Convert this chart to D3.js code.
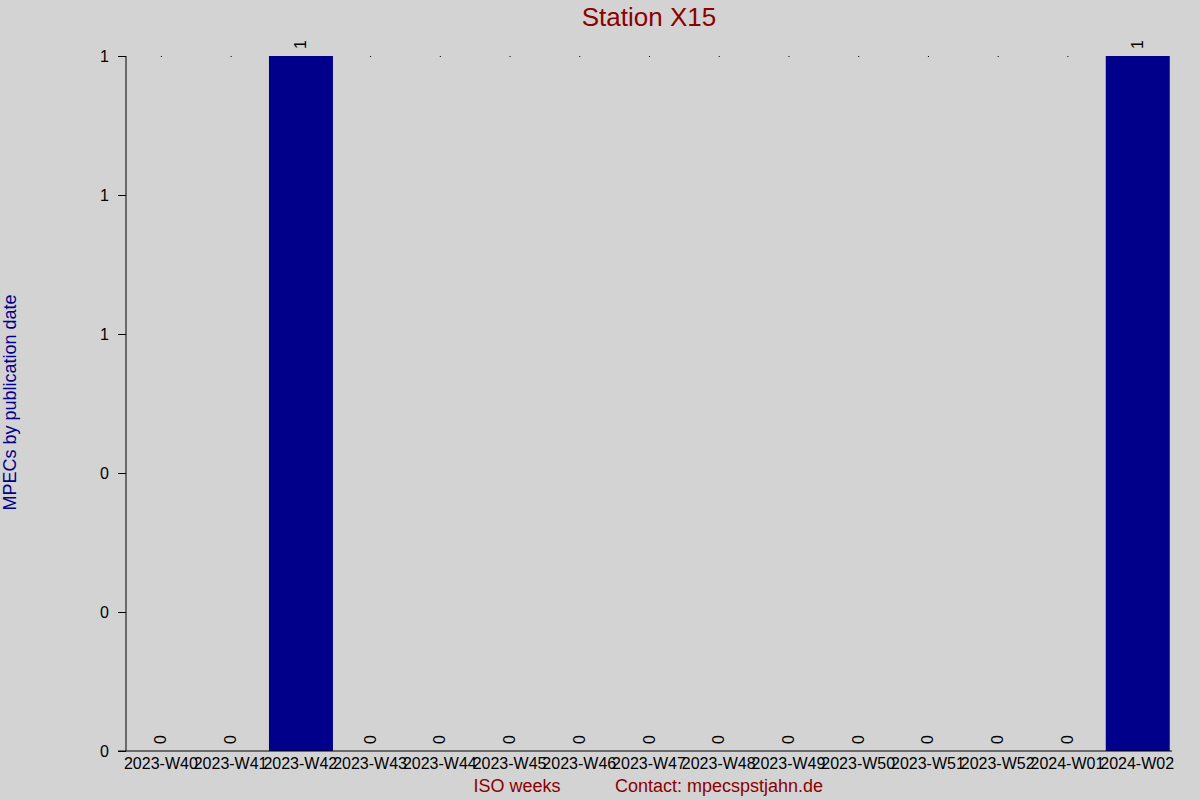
<!DOCTYPE html>
<html lang="en">
<head>
  <meta charset="UTF-8">
  <title>Station X15</title>
  <script src="https://d3js.org/d3.v7.min.js"></script>
  <style>
    body { margin: 0; background: #d3d3d3; font-family: 'Liberation Sans', Arial, sans-serif; }
    svg text { font-family: 'Liberation Sans', Arial, sans-serif; }
  </style>
</head>
<body>
  <div id="chart"></div>
  <script>
    const weeks = ["2023-W40", "2023-W41", "2023-W42", "2023-W43", "2023-W44", "2023-W45", "2023-W46",
      "2023-W47", "2023-W48", "2023-W49", "2023-W50", "2023-W51", "2023-W52", "2024-W01", "2024-W02"];
    const counts = [0, 0, 1, 0, 0, 0, 0, 0, 0, 0, 0, 0, 0, 0, 1];
    const yTicks = [0, 0.2, 0.4, 0.6, 0.8, 1];

    const width = 1200, height = 800;
    const plotLeft = 126, plotRight = 1172, plotTop = 56, plotBottom = 751;

    const svg = d3.select("#chart").append("svg")
      .attr("width", width)
      .attr("height", height);

    svg.append("rect").attr("width", width).attr("height", height).attr("fill", "#d3d3d3");

    const data = weeks.map((w, i) => ({ week: w, value: counts[i] }));

    const x = d3.scaleBand().domain(weeks).range([plotLeft, plotRight]).padding(0);
    const y = d3.scaleLinear().domain([0, 1]).range([plotBottom, plotTop]);

    // little marks at the top of each band
    svg.append("g").selectAll("rect")
      .data(data)
      .enter().append("rect")
      .attr("x", d => x(d.week) + x.bandwidth() / 2)
      .attr("y", y(1))
      .attr("width", 1)
      .attr("height", 1)
      .attr("fill", "#000");

    // bars
    svg.append("g").selectAll("rect")
      .data(data)
      .enter().append("rect")
      .attr("x", d => x(d.week) + 3.5)
      .attr("y", d => y(d.value))
      .attr("width", x.bandwidth() - 5.75)
      .attr("height", d => y(0) - y(d.value))
      .attr("fill", "#00008b");

    // value labels
    svg.append("g").selectAll("text")
      .data(data)
      .enter().append("text")
      .attr("transform", d => `translate(${x(d.week) + x.bandwidth() / 2},${y(d.value) - 7}) rotate(-90)`)
      .attr("dominant-baseline", "central")
      .attr("text-anchor", "start")
      .attr("font-size", 16)
      .attr("fill", "#000")
      .text(d => d.value);

    // y axis
    const yAxis = svg.append("g")
      .attr("transform", `translate(${plotLeft},0)`)
      .call(d3.axisLeft(y).tickValues(yTicks).tickFormat(d3.format(".0f")).tickSizeInner(8).tickSizeOuter(0).tickPadding(9));
    yAxis.select(".domain").remove();
    yAxis.selectAll("text").attr("font-size", 16).attr("fill", "#000").style("font-family", "'Liberation Sans', Arial, sans-serif");
    yAxis.selectAll("line").attr("stroke", "#000");
    svg.append("line")
      .attr("x1", plotLeft).attr("x2", plotLeft)
      .attr("y1", plotTop).attr("y2", plotBottom)
      .attr("stroke", "#000");

    // x axis
    const xAxis = svg.append("g")
      .attr("transform", `translate(0,${plotBottom})`)
      .call(d3.axisBottom(x).tickSizeInner(0).tickSizeOuter(0).tickPadding(7));
    xAxis.select(".domain").remove();
    xAxis.selectAll("text").attr("font-size", 16).attr("fill", "#000").style("font-family", "'Liberation Sans', Arial, sans-serif");
    svg.append("line")
      .attr("x1", plotLeft - 8).attr("x2", plotRight)
      .attr("y1", plotBottom).attr("y2", plotBottom)
      .attr("stroke", "#000");

    // title and axis titles
    svg.append("text")
      .attr("x", (plotLeft + plotRight) / 2)
      .attr("y", 26)
      .attr("text-anchor", "middle")
      .attr("font-size", 26)
      .attr("fill", "#8b0000")
      .text("Station X15");

    svg.append("text")
      .attr("transform", `translate(16,${(plotTop + plotBottom) / 2 - 1}) rotate(-90)`)
      .attr("text-anchor", "middle")
      .attr("font-size", 18)
      .attr("fill", "#00008b")
      .text("MPECs by publication date");

    svg.append("text")
      .attr("x", 517)
      .attr("y", 792)
      .attr("text-anchor", "middle")
      .attr("font-size", 18)
      .attr("fill", "#8b0000")
      .text("ISO weeks");

    svg.append("text")
      .attr("x", 719)
      .attr("y", 792)
      .attr("text-anchor", "middle")
      .attr("font-size", 18)
      .attr("fill", "#8b0000")
      .text("Contact: mpecspstjahn.de");
  </script>
</body>
</html>
